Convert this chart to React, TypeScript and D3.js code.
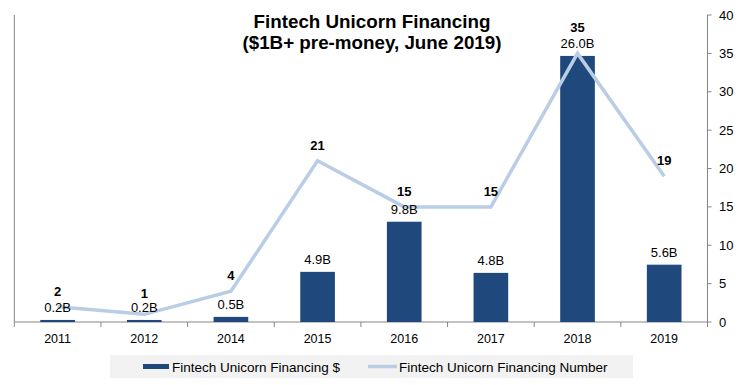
import React from "react";
import * as d3 from "d3";

// chart data
const years = ["2011", "2012", "2014", "2015", "2016", "2017", "2018", "2019"];
const financing = [0.2, 0.2, 0.5, 4.9, 9.8, 4.8, 26.0, 5.6];
const financingLabels = ["0.2B", "0.2B", "0.5B", "4.9B", "9.8B", "4.8B", "26.0B", "5.6B"];
const dealCount = [2, 1, 4, 21, 15, 15, 35, 19];
const rightTicks = [0, 5, 10, 15, 20, 25, 30, 35, 40];

const titleLines = ["Fintech Unicorn Financing", "($1B+ pre-money, June 2019)"];
const legendNames = ["Fintech Unicorn Financing $", "Fintech Unicorn Financing Number"];

const W = 743;
const H = 385;
const BAR = "#1F497D";
const LINE = "#B9CDE5";
const AXIS = "#868686";
const FONT = "'Liberation Sans', Arial, sans-serif";

const App = () => {
  const left = 14.3;
  const right = 707.5;
  const top = 15;
  const bottom = 322;

  const x = d3.scaleBand().domain(years).range([left, right]).padding(0);
  const yBar = d3.scaleLinear().domain([0, 30]).range([bottom, top]);
  const yLine = d3.scaleLinear().domain([0, 40]).range([bottom, top]);
  const bw = x.bandwidth() * 0.4;
  const cx = (d) => x(d) + x.bandwidth() / 2;

  const line = d3
    .line()
    .x((d, i) => cx(years[i]))
    .y((d) => yLine(d));

  const bounds = years.map((d) => x(d)).concat([right]);

  return (
    <svg
      width={W}
      height={H}
      style={{ position: "absolute", left: 0, top: 0, background: "#fff" }}
      fontFamily={FONT}
    >
      {/* title */}
      {titleLines.map((t, i) => (
        <text
          key={t}
          x={372}
          y={27.5 + i * 21}
          textAnchor="middle"
          fontSize={18.8}
          fontWeight="bold"
          fill="#000"
        >
          {t}
        </text>
      ))}

      {/* axes */}
      <line x1={left} x2={left} y1={top} y2={bottom} stroke={AXIS} />
      <line x1={left} x2={right} y1={bottom} y2={bottom} stroke={AXIS} />
      <line x1={right} x2={right} y1={top} y2={bottom} stroke={AXIS} />
      {bounds.map((b, i) => (
        <line key={i} x1={b} x2={b} y1={bottom} y2={bottom + 5} stroke={AXIS} />
      ))}
      {rightTicks.map((t) => (
        <g key={t}>
          <line x1={right} x2={right + 4} y1={yLine(t)} y2={yLine(t)} stroke={AXIS} />
          <text x={719} y={yLine(t) + 4.5} fontSize={13} fill="#000">
            {t}
          </text>
        </g>
      ))}
      {years.map((d) => (
        <text key={d} x={cx(d)} y={342.5} textAnchor="middle" fontSize={12.5} fill="#000">
          {d}
        </text>
      ))}

      {/* bars */}
      {financing.map((v, i) => (
        <rect
          key={years[i]}
          x={cx(years[i]) - bw / 2}
          y={yBar(v)}
          width={bw}
          height={bottom - yBar(v)}
          fill={BAR}
        />
      ))}

      {/* line */}
      <path d={line(dealCount)} fill="none" stroke={LINE} strokeWidth={3.5} />

      {/* bar labels */}
      {financing.map((v, i) => (
        <text
          key={"b" + i}
          x={cx(years[i])}
          y={yBar(v) - 7.5}
          textAnchor="middle"
          fontSize={13}
          fill="#000"
        >
          {financingLabels[i]}
        </text>
      ))}

      {/* count labels, pushed up when they sit on a bar label */}
      {dealCount.map((v, i) => {
        const barY = yBar(financing[i]) - 7.5;
        let ly = yLine(v) - 11;
        if (barY - ly < 14.5) ly = barY - (barY - ly < 8 ? 16 : 14.5);
        return (
          <text
            key={"n" + i}
            x={cx(years[i])}
            y={ly}
            textAnchor="middle"
            fontSize={13}
            fontWeight="bold"
            fill="#000"
          >
            {v}
          </text>
        );
      })}

      {/* legend */}
      <rect x={110} y={355} width={523} height={23} fill="#F2F2F2" />
      <rect x={143} y={364} width={26} height={5} fill={BAR} />
      <text x={172} y={371.5} fontSize={13.5} fill="#000">
        {legendNames[0]}
      </text>
      <line x1={368} x2={397} y1={366.5} y2={366.5} stroke={LINE} strokeWidth={3.5} />
      <text x={399} y={371.5} fontSize={13.5} fill="#000">
        {legendNames[1]}
      </text>
    </svg>
  );
};

export default App;
